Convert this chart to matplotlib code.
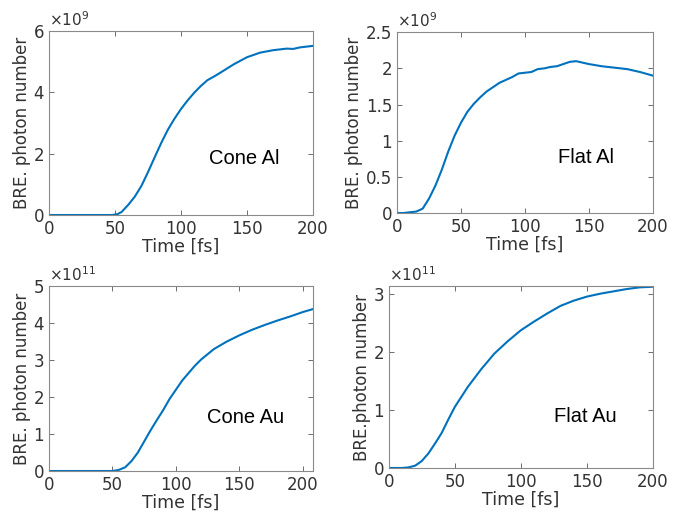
import numpy as np
from matplotlib import pyplot as plt

plt.rcParams['font.family'] = ['DejaVu Sans']

# time axis (fs) and curves, values in units of the panel exponent
t_cone_al = [0, 20, 40, 48, 52, 55, 60, 65, 70, 75, 80, 85, 90, 95, 100, 105, 110, 115, 120, 125, 130, 140, 150, 160, 170, 180, 185, 190, 200]
y_cone_al = [0, 0, 0, 0, 0.03, 0.1, 0.33, 0.6, 0.95, 1.4, 1.88, 2.35, 2.78, 3.14, 3.46, 3.74, 3.99, 4.21, 4.4, 4.52, 4.65, 4.92, 5.15, 5.3, 5.38, 5.43, 5.42, 5.47, 5.52]

t_flat_al = [0, 5, 10, 15, 20, 25, 30, 35, 40, 45, 50, 55, 60, 65, 70, 75, 80, 85, 90, 95, 100, 105, 110, 115, 120, 125, 130, 135, 140, 145, 150, 160, 170, 180, 190, 200]
y_flat_al = [0, 0, 0.01, 0.02, 0.06, 0.2, 0.38, 0.6, 0.85, 1.07, 1.25, 1.4, 1.51, 1.6, 1.68, 1.74, 1.8, 1.84, 1.88, 1.93, 1.94, 1.95, 1.99, 2.0, 2.02, 2.03, 2.06, 2.09, 2.1, 2.08, 2.06, 2.03, 2.01, 1.99, 1.95, 1.9]

t_cone_au = [0, 20, 40, 50, 55, 60, 65, 70, 75, 80, 85, 90, 95, 100, 105, 110, 115, 120, 130, 140, 150, 160, 170, 180, 190, 200, 208]
y_cone_au = [0, 0, 0, 0, 0.03, 0.1, 0.27, 0.5, 0.8, 1.1, 1.38, 1.65, 1.95, 2.2, 2.45, 2.65, 2.85, 3.02, 3.3, 3.5, 3.67, 3.82, 3.95, 4.07, 4.18, 4.3, 4.38]

t_flat_au = [0, 10, 15, 20, 25, 30, 35, 40, 45, 50, 60, 70, 80, 90, 100, 110, 120, 130, 140, 150, 160, 170, 180, 190, 200]
y_flat_au = [0, 0, 0.01, 0.04, 0.12, 0.25, 0.42, 0.6, 0.83, 1.05, 1.4, 1.7, 1.97, 2.18, 2.37, 2.52, 2.66, 2.79, 2.88, 2.95, 3.0, 3.04, 3.08, 3.11, 3.12]

panels = [
    (t_cone_al, y_cone_al, 9, 'Cone Al', 'BRE. photon number', (0, 200), (0, 6), [0, 2, 4, 6], ['0', '2', '4', '6'], (148, 1.86)),
    (t_flat_al, y_flat_al, 9, 'Flat Al', 'BRE. photon number', (0, 200), (0, 2.5), [0, 0.5, 1, 1.5, 2, 2.5], ['0', '0.5', '1', '1.5', '2', '2.5'], (148, 0.77)),
    (t_cone_au, y_cone_au, 11, 'Cone Au', 'BRE. photon number', (0, 208), (0, 5), [0, 1, 2, 3, 4, 5], ['0', '1', '2', '3', '4', '5'], (155, 1.46)),
    (t_flat_au, y_flat_au, 11, 'Flat Au', 'BRE.photon number', (0, 200), (0, 3.13), [0, 1, 2, 3], ['0', '1', '2', '3'], (149, 0.88)),
]

rects = [
    [0.0707, 0.5825, 0.381, 0.357],
    [0.573, 0.5864, 0.369, 0.351],
    [0.0707, 0.0854, 0.381, 0.359],
    [0.561, 0.0913, 0.381, 0.353],
]

fig = plt.figure(figsize=(6.93, 5.15), dpi=100)
txt = '#333333'

for rect, (t, y, ex, name, ylab, xl, yl, yt, ytl, pos) in zip(rects, panels):
    ax = fig.add_axes(rect)
    ax.plot(t, y, color='#0072BD', lw=1.5)
    ax.set_xlim(*xl)
    ax.set_ylim(*yl)
    ax.set_xticks([0, 50, 100, 150, 200])
    ax.set_yticks(yt)
    ax.set_yticklabels(ytl)
    ax.tick_params(direction='in', top=True, right=True, length=3.5, width=0.6,
                   colors='#555555', labelcolor=txt, labelsize=12)
    for s in ax.spines.values():
        s.set_color('#8a8a8a')
        s.set_linewidth(0.8)
    ax.set_xlabel('Time [fs]', fontsize=12.5, color=txt, labelpad=0)
    ax.set_ylabel(ylab, fontsize=12, color=txt, labelpad=2)
    ax.text(0, 1.01, r'$\times10^{%d}$' % ex, transform=ax.transAxes,
            ha='left', va='bottom', fontsize=11, color=txt)
    ax.text(pos[0], pos[1], name, ha='center', va='center', fontsize=14.5,
            color='black', family='Liberation Sans')

fig.savefig('out.png', dpi=100)
